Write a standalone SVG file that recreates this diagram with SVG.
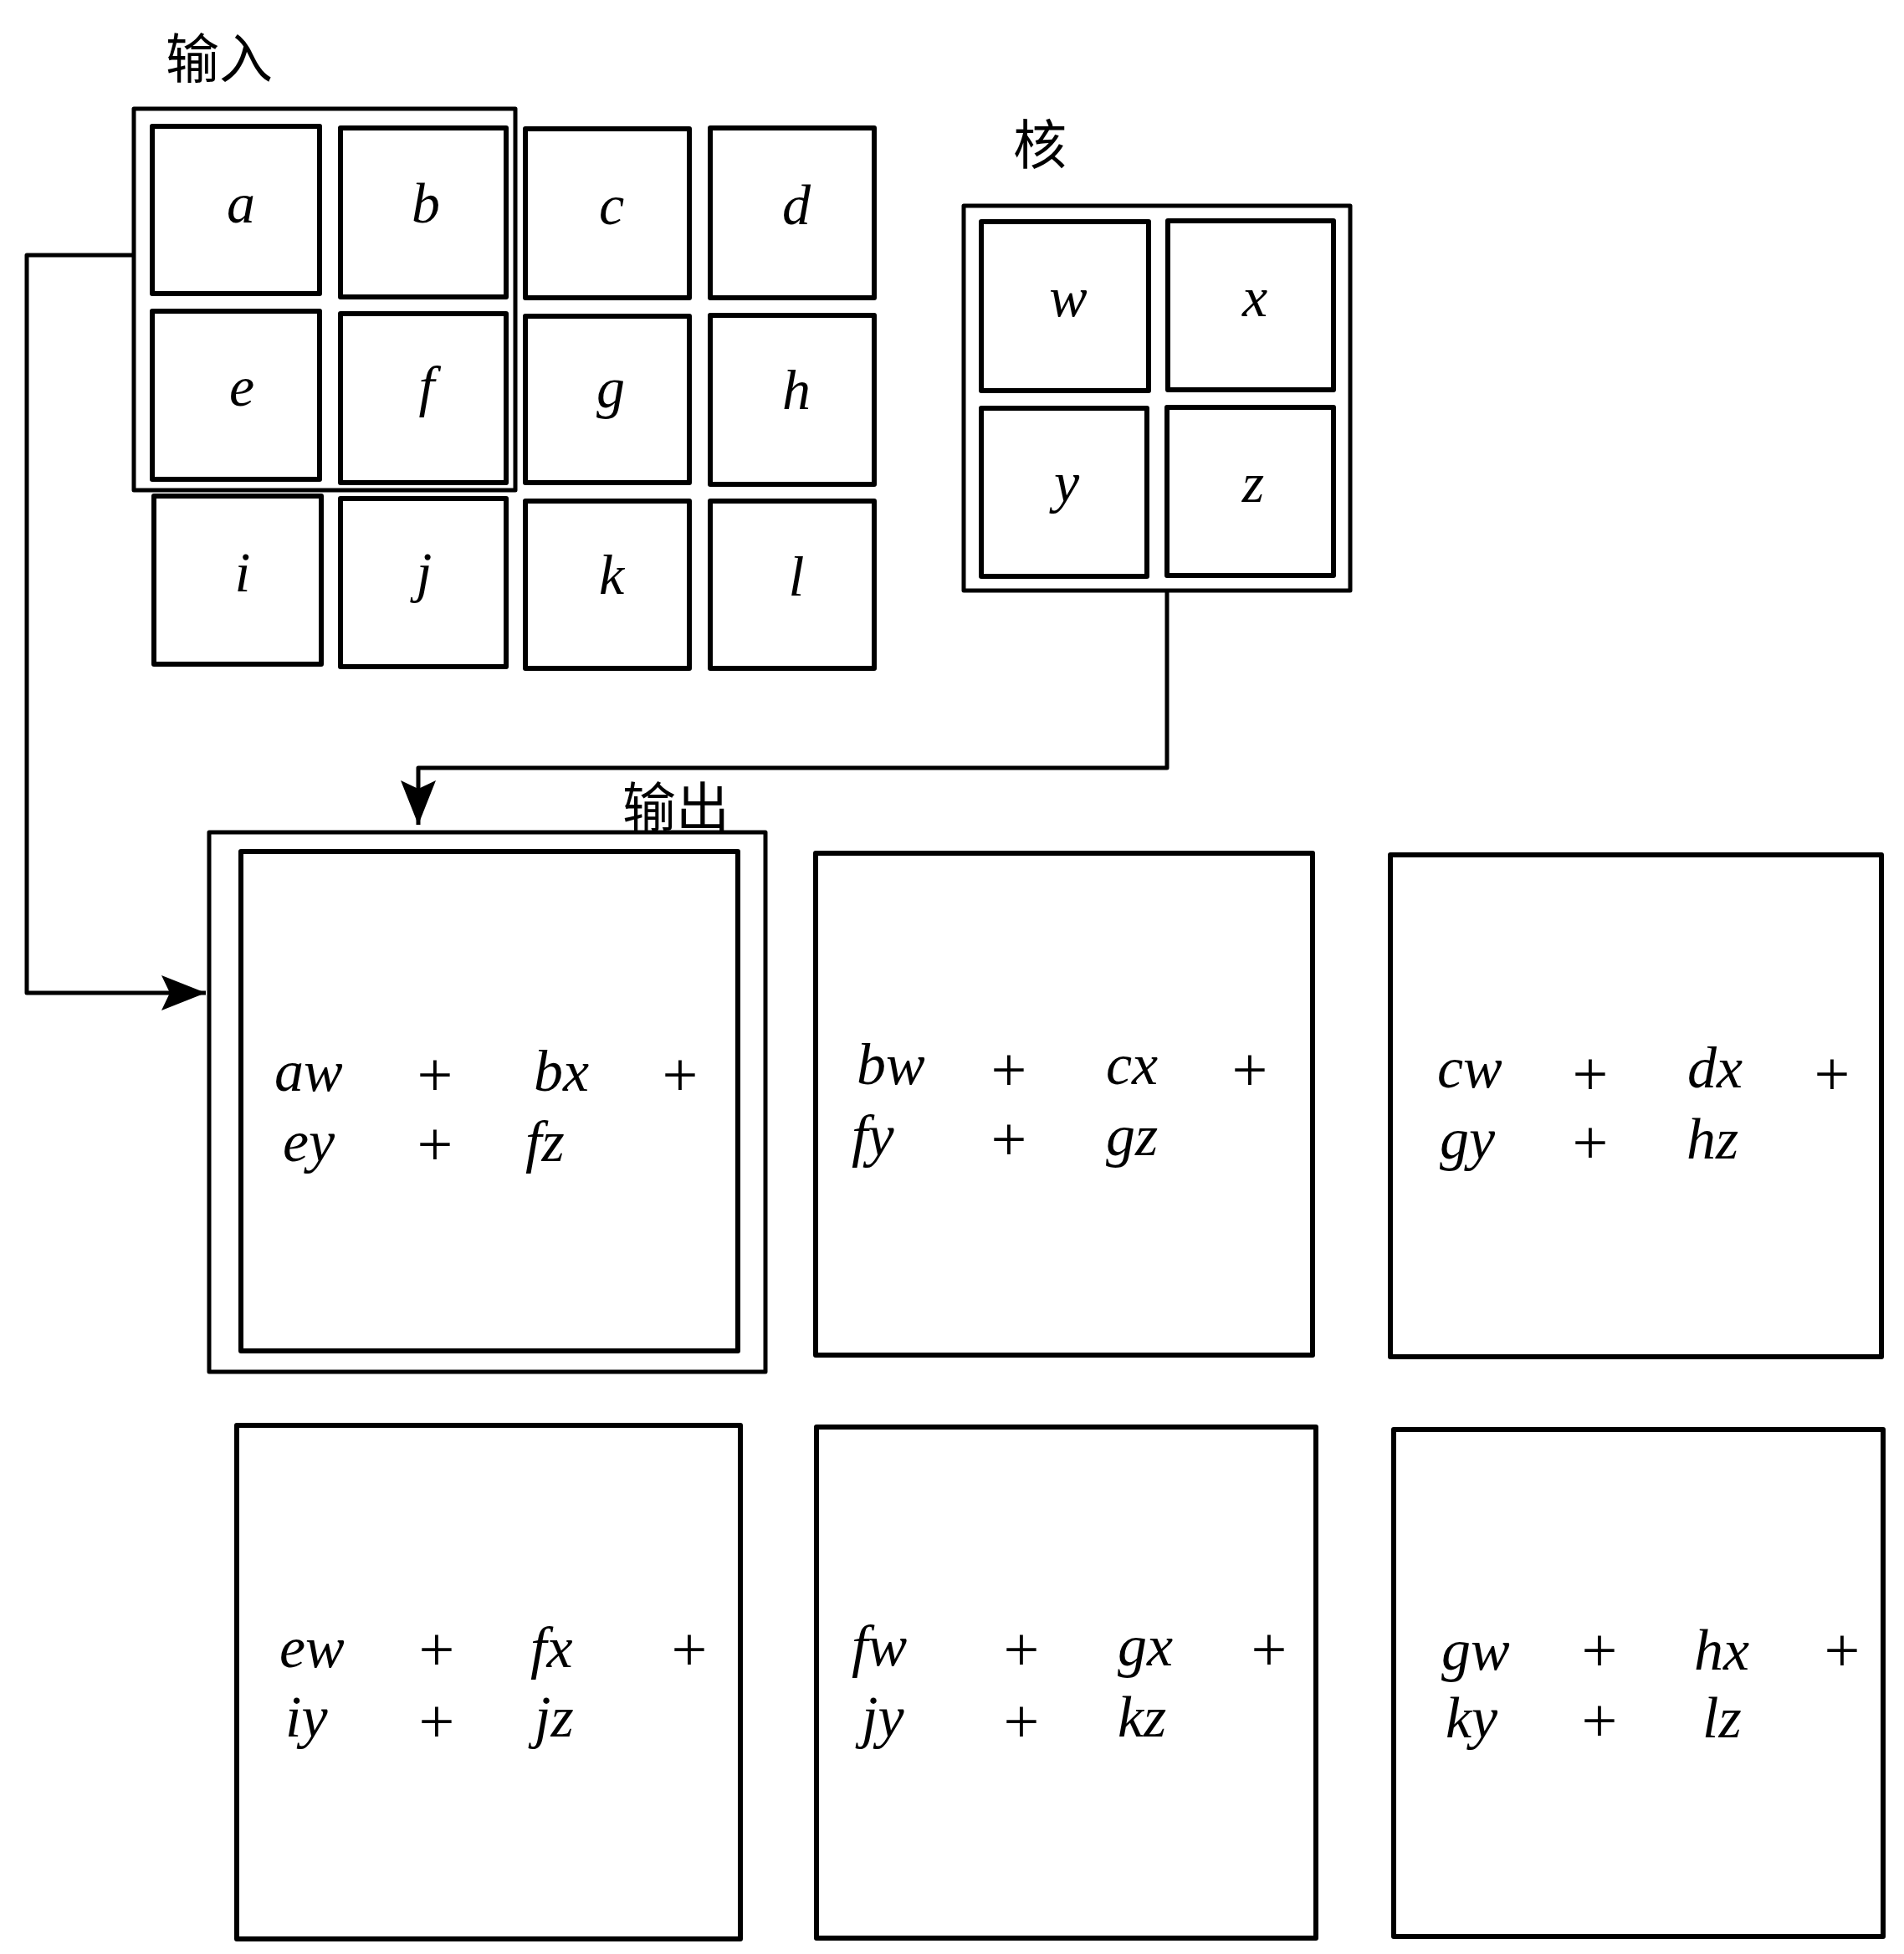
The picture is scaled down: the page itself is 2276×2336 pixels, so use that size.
<svg xmlns="http://www.w3.org/2000/svg" width="2276" height="2336" viewBox="0 0 2276 2336">
<style>
.cell{fill:none;stroke:#000;stroke-width:6;stroke-linejoin:round}
.frame{fill:none;stroke:#000;stroke-width:5;stroke-linejoin:round}
.conn{fill:none;stroke:#000;stroke-width:5;stroke-linejoin:round}
.v{font-family:"Liberation Serif","DejaVu Serif",serif;font-style:italic;font-size:68px;fill:#000;text-anchor:middle}
.t{font-family:"Liberation Serif","DejaVu Serif",serif;font-style:italic;font-size:70px;fill:#000}
.p{font-family:"Liberation Serif","DejaVu Serif",serif;font-size:76px;fill:#000;text-anchor:middle}
.cjk{font-family:"Noto Sans CJK SC","Noto Sans",sans-serif;font-size:64px;fill:#000}
</style>
<defs>
<marker id="arr" markerUnits="userSpaceOnUse" markerWidth="60" markerHeight="50" viewBox="-56 -25 60 50" refX="0" refY="0" orient="auto">
<path d="M0,0 L-53,-21 L-43,0 L-53,21 Z" fill="#000"/>
</marker>
</defs>
<rect width="2276" height="2336" fill="#fff"/>

<g id="label-input"><text class="cjk" x="198" y="93">输入</text></g>
<g id="label-kernel"><text class="cjk" x="1211" y="196">核</text></g>
<g id="label-output"><text class="cjk" x="744" y="988">输出</text></g>

<g id="input-window"><rect class="frame" x="160" y="130" width="456" height="456"/></g>
<g id="in-a"><rect class="cell" x="182" y="151" width="200" height="200"/><text class="v" x="288" y="266">a</text></g>
<g id="in-b"><rect class="cell" x="407" y="153" width="198" height="202"/><text class="v" x="509" y="266">b</text></g>
<g id="in-c"><rect class="cell" x="628" y="154" width="196" height="202"/><text class="v" x="731" y="268">c</text></g>
<g id="in-d"><rect class="cell" x="849" y="153" width="196" height="203"/><text class="v" x="952" y="268">d</text></g>
<g id="in-e"><rect class="cell" x="182" y="372" width="200" height="201"/><text class="v" x="289" y="485">e</text></g>
<g id="in-f"><rect class="cell" x="407" y="375" width="198" height="202"/><text class="v" x="510" y="485">f</text></g>
<g id="in-g"><rect class="cell" x="628" y="378" width="196" height="199"/><text class="v" x="730" y="487">g</text></g>
<g id="in-h"><rect class="cell" x="849" y="377" width="196" height="202"/><text class="v" x="952" y="489">h</text></g>
<g id="in-i"><rect class="cell" x="184" y="593" width="200" height="201"/><text class="v" x="290" y="707">i</text></g>
<g id="in-j"><rect class="cell" x="407" y="596" width="198" height="201"/><text class="v" x="507" y="707">j</text></g>
<g id="in-k"><rect class="cell" x="628" y="599" width="196" height="200"/><text class="v" x="731" y="710">k</text></g>
<g id="in-l"><rect class="cell" x="849" y="599" width="196" height="200"/><text class="v" x="952" y="712">l</text></g>

<g id="kernel-frame"><rect class="frame" x="1152" y="246" width="462" height="460"/></g>
<g id="k-w"><rect class="cell" x="1173" y="265" width="200" height="202"/><text class="v" x="1277" y="378">w</text></g>
<g id="k-x"><rect class="cell" x="1396" y="264" width="198" height="202"/><text class="v" x="1500" y="378">x</text></g>
<g id="k-y"><rect class="cell" x="1173" y="488" width="198" height="201"/><text class="v" x="1275" y="600">y</text></g>
<g id="k-z"><rect class="cell" x="1395" y="487" width="199" height="201"/><text class="v" x="1498" y="600">z</text></g>

<g id="out-1">
<rect class="frame" x="250" y="995" width="665" height="645"/>
<rect class="cell" x="288" y="1018" width="594" height="597"/>
<text class="t" x="328" y="1304">aw</text><text class="p" x="520" y="1310">+</text><text class="t" x="638" y="1304">bx</text><text class="p" x="813" y="1310">+</text>
<text class="t" x="338" y="1388">ey</text><text class="p" x="520" y="1393">+</text><text class="t" x="628" y="1388">fz</text>
</g>
<g id="out-2">
<rect class="cell" x="975" y="1020" width="594" height="600"/>
<text class="t" x="1024" y="1296">bw</text><text class="p" x="1206" y="1304">+</text><text class="t" x="1322" y="1296">cx</text><text class="p" x="1494" y="1304">+</text>
<text class="t" x="1018" y="1381">fy</text><text class="p" x="1206" y="1387">+</text><text class="t" x="1322" y="1381">gz</text>
</g>
<g id="out-3">
<rect class="cell" x="1662" y="1022" width="587" height="600"/>
<text class="t" x="1718" y="1300">cw</text><text class="p" x="1901" y="1309">+</text><text class="t" x="2017" y="1300">dx</text><text class="p" x="2190" y="1309">+</text>
<text class="t" x="1721" y="1385">gy</text><text class="p" x="1901" y="1391">+</text><text class="t" x="2016" y="1385">hz</text>
</g>
<g id="out-4">
<rect class="cell" x="283" y="1704" width="602" height="614"/>
<text class="t" x="334" y="1993">ew</text><text class="p" x="522" y="1997">+</text><text class="t" x="634" y="1993">fx</text><text class="p" x="824" y="1997">+</text>
<text class="t" x="341" y="2076">iy</text><text class="p" x="522" y="2083">+</text><text class="t" x="639" y="2076">jz</text>
</g>
<g id="out-5">
<rect class="cell" x="976" y="1706" width="597" height="611"/>
<text class="t" x="1018" y="1991">fw</text><text class="p" x="1221" y="1997">+</text><text class="t" x="1336" y="1991">gx</text><text class="p" x="1517" y="1997">+</text>
<text class="t" x="1030" y="2076">jy</text><text class="p" x="1221" y="2083">+</text><text class="t" x="1336" y="2076">kz</text>
</g>
<g id="out-6">
<rect class="cell" x="1666" y="1709" width="585" height="606"/>
<text class="t" x="1723" y="1996">gw</text><text class="p" x="1912" y="1998">+</text><text class="t" x="2025" y="1996">hx</text><text class="p" x="2202" y="1998">+</text>
<text class="t" x="1728" y="2077">ky</text><text class="p" x="1912" y="2082">+</text><text class="t" x="2035" y="2077">lz</text>
</g>

<g id="connectors">
<path class="conn" d="M160,305 L32,305 L32,1187 L246,1187" marker-end="url(#arr)"/>
<path class="conn" d="M1395,706 L1395,918 L500,918 L500,986" marker-end="url(#arr)"/>
</g>
</svg>
